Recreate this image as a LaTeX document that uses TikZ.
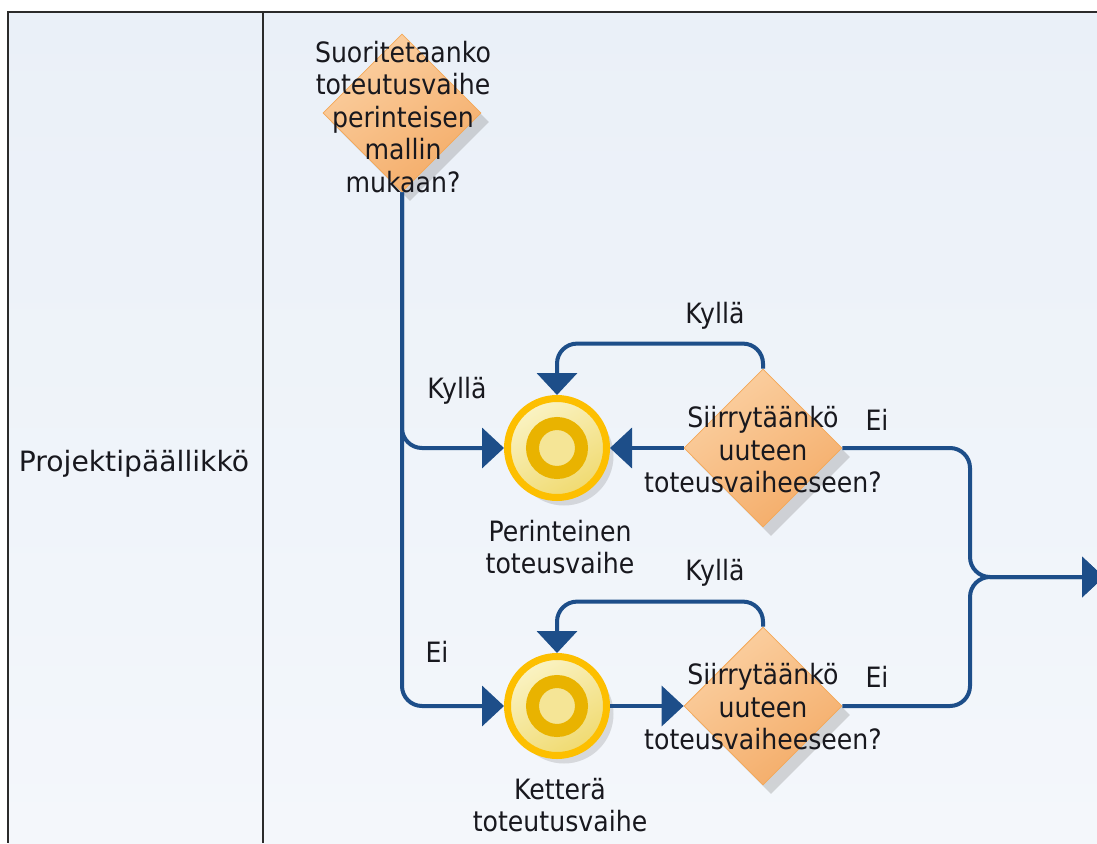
\documentclass[tikz,border=0pt]{standalone}
\usepackage{fontspec}
\usepackage{graphicx}
\setmainfont{DejaVu Sans}
\newfontfamily\labelfont[FakeStretch=0.9]{DejaVu Sans}
\usetikzlibrary{shapes.geometric,arrows.meta,shadows}
\definecolor{flowblue}{HTML}{1D4E89}
\definecolor{lanetop}{HTML}{EAF0F8}
\definecolor{lanebot}{HTML}{F4F7FB}
\definecolor{framecol}{HTML}{2B2B2B}
\definecolor{diamlight}{HTML}{FBD0A2}
\definecolor{diamdark}{HTML}{F4AC68}
\definecolor{diamedge}{HTML}{F4A858}
\definecolor{ringgold}{HTML}{FDBF00}
\definecolor{ringinner}{HTML}{E9B300}
\definecolor{stagelight}{HTML}{FAF3C4}
\definecolor{stagedark}{HTML}{F0DA70}
\definecolor{stagecore}{HTML}{F5E596}
\definecolor{txt}{HTML}{18181E}
\begin{document}
\begin{tikzpicture}[x=1pt,y=-1pt,
  every node/.style={text=txt},
  bigtext/.style={font=\labelfont\fontsize{28}{32.5}\selectfont, align=center, inner sep=0pt},
  decision/.style={shape=diamond, minimum width=158pt, minimum height=158pt, inner sep=0pt,
    draw=diamedge, line width=0.8pt, top color=diamlight, bottom color=diamdark, shading angle=35,
    drop shadow={shadow xshift=8pt, shadow yshift=-9pt, opacity=.3, fill=black!50}},
  stage/.style={circle, minimum size=99pt, inner sep=0pt, draw=ringgold, line width=7pt,
    top color=stagelight, bottom color=stagedark, shading angle=30,
    drop shadow={shadow xshift=7pt, shadow yshift=-8pt, opacity=.25, fill=black!50}},
  ring/.style={draw=ringinner, line width=13pt, fill=stagecore},
  flow/.style={draw=flowblue, line width=4pt, rounded corners=20pt,
    -{Triangle[length=22pt,width=40pt]}},
  frame/.style={draw=framecol, line width=2pt}]
\useasboundingbox (0,0) rectangle (1097,843);

% swimlane background and borders
\fill[top color=lanetop, bottom color=lanebot] (8,12) rectangle (1097,843);
\draw[frame] (1097,12) -- (8,12) -- (8,843);
\draw[frame] (263,12) -- (263,843);
\node[bigtext] (lane) at (134,464) {\scalebox{1.12}[1]{Projektipäällikkö}};

% decisions
\node[decision] (d1) at (402,113) {};
\node[decision] (d2a) at (763,448) {};
\node[decision] (d2b) at (763,706) {};

% stages
\node[stage] (c1) at (557,448) {};
\draw[ring] (c1.center) circle[radius=24.5];
\node[stage] (c2) at (557,706) {};
\draw[ring] (c2.center) circle[radius=24.5];

% junction and exit
\coordinate (j) at (970,577);
\coordinate (out) at (1104,577);

% connectors
\draw[flow] (d1.south) |- (c2.west);
\draw[flow] (d1.south) |- (c1.west);
\draw[flow] (d2a.west) -- (c1.east);
\draw[flow] (d2a.north) -- ++(0,-25) -| (c1.north);
\draw[flow] (c2.east) -- (d2b.west);
\draw[flow] (d2b.north) -- ++(0,-25) -| (c2.north);
\draw[flow] (d2a.east) -| (j) -- (out);
\draw[flow] (d2b.east) -| (j) -- (out);

% texts
\node[bigtext] (t1) at (403,117) {Suoritetaanko\\toteutusvaihe\\perinteisen\\mallin\\mukaan?};
\node[bigtext] (t2a) at (763,450) {Siirrytäänkö\\uuteen\\toteusvaiheeseen?};
\node[bigtext] (t2b) at (763,707) {Siirrytäänkö\\uuteen\\toteusvaiheeseen?};
\node[bigtext] (s1) at (560,547) {Perinteinen\\toteusvaihe};
\node[bigtext] (s2) at (560,805) {Ketterä\\toteutusvaihe};

\node[bigtext] (y0) at (457,391) {Kyllä};
\node[bigtext] (n0) at (437,652) {Ei};
\node[bigtext] (y1) at (715,316) {Kyllä};
\node[bigtext] (n1) at (877,420) {Ei};
\node[bigtext] (y2) at (715,573) {Kyllä};
\node[bigtext] (n2) at (877,677) {Ei};
\end{tikzpicture}
\end{document}
